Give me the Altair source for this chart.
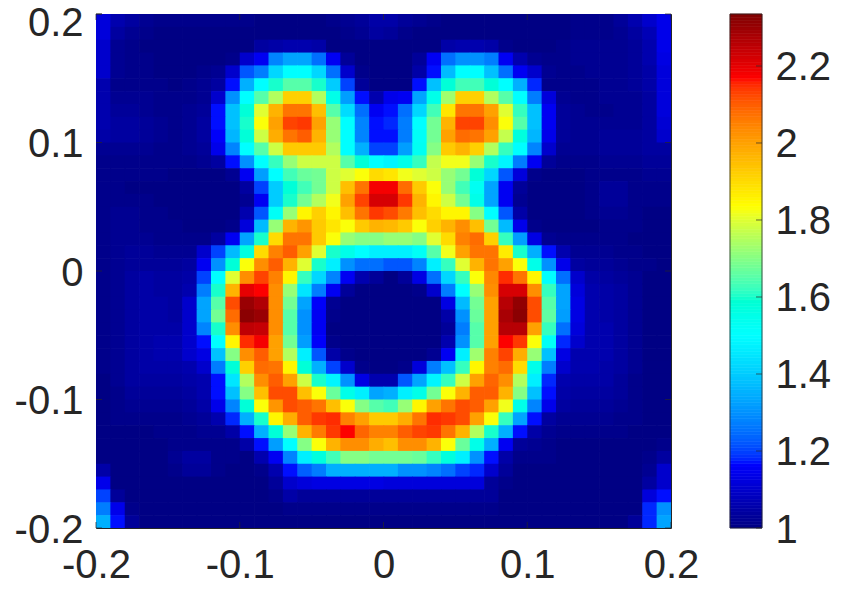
import altair as alt
import pandas as pd

# Cell values, x 100, top row first, 40 columns by 40 rows
R = [
[112,106,104,102,101,101,101,101,101,101,101,100,100,100,100,100,101,102,103,105,105,103,102,101,100,100,100,100,100,100,100,100,100,101,101,101,103,106,110,114],
[112,104,102,101,100,100,100,100,100,100,100,100,100,100,100,100,100,101,102,104,103,101,100,100,100,100,100,100,100,100,100,100,100,101,101,101,102,104,107,114],
[110,102,101,100,100,100,100,100,100,100,100,104,105,106,106,105,100,100,100,100,100,100,100,100,105,106,106,105,101,100,100,100,101,102,102,102,102,103,106,114],
[110,102,101,101,100,100,100,100,100,101,110,115,128,133,133,125,115,103,100,100,100,100,103,115,125,130,130,127,115,106,102,101,101,102,102,102,102,103,106,113],
[110,102,101,101,100,100,100,101,102,110,122,127,142,150,150,142,125,110,101,100,100,100,105,117,137,150,150,138,125,115,110,102,101,101,102,102,102,103,105,112],
[106,101,101,101,101,100,101,102,104,117,135,150,160,165,165,160,140,120,103,100,100,100,117,138,158,163,163,158,150,135,118,101,101,101,101,102,102,103,105,112],
[106,102,102,102,101,101,101,102,110,130,150,165,175,192,192,175,155,132,117,106,114,115,133,155,173,192,192,175,165,150,127,112,102,101,101,102,102,102,104,112],
[106,103,103,102,101,101,102,103,117,138,158,180,197,207,207,195,165,143,125,115,117,125,142,163,188,207,207,200,180,162,138,115,103,102,101,101,102,102,104,112],
[106,104,104,103,102,101,102,104,117,138,160,183,200,213,214,200,172,150,128,117,118,127,150,168,197,213,213,203,183,165,138,115,103,102,102,102,102,102,104,111],
[105,104,104,103,102,101,102,104,116,136,158,178,198,207,210,197,172,150,128,117,117,127,152,168,200,208,207,200,177,157,136,114,103,102,102,103,103,103,104,110],
[102,102,102,102,101,101,102,103,114,128,150,165,178,193,193,193,175,150,135,120,120,132,153,170,193,197,192,175,162,150,128,110,102,102,102,103,103,103,104,104],
[101,101,101,101,101,101,101,102,104,117,130,150,162,172,178,178,178,165,158,150,148,155,162,177,182,182,172,160,148,127,115,103,101,101,101,102,102,102,103,103],
[101,101,101,101,101,100,100,100,100,102,115,132,150,163,167,168,178,180,183,190,188,182,180,178,172,168,158,142,122,112,101,100,100,100,101,101,101,101,102,102],
[101,101,100,100,100,100,100,100,100,100,104,120,140,158,163,168,178,195,207,218,218,208,193,183,172,163,153,133,115,103,100,100,100,100,101,103,103,101,101,101],
[101,101,101,101,100,100,100,100,100,100,102,115,140,160,168,175,182,200,213,222,222,214,197,185,178,168,155,133,115,102,100,100,100,100,101,103,103,101,101,101],
[101,102,102,101,101,100,100,100,100,100,106,122,152,172,185,192,185,195,207,214,212,206,195,190,185,185,170,150,122,105,100,100,100,100,101,102,102,101,100,100],
[101,102,102,101,101,101,100,100,100,101,112,137,172,197,202,193,188,183,193,197,196,193,183,192,197,203,195,168,137,114,101,100,100,100,100,101,101,101,100,100],
[101,102,102,102,101,101,101,101,104,115,133,160,190,207,207,193,183,172,170,170,172,172,170,180,190,205,208,192,162,132,113,102,101,101,101,101,101,100,100,100],
[101,102,103,103,102,102,102,110,120,137,157,190,205,210,200,180,160,155,150,147,147,147,152,165,182,200,207,207,187,160,135,117,106,102,102,102,101,101,100,100],
[101,102,103,103,103,103,104,115,130,158,183,203,210,197,180,160,147,130,125,125,122,122,128,147,162,180,197,207,200,183,155,130,114,104,103,103,102,101,101,100],
[101,102,104,105,104,104,105,120,150,180,203,213,205,185,162,142,128,115,106,103,100,103,113,125,142,162,183,204,215,207,185,150,125,110,105,104,103,102,100,100],
[101,102,104,105,104,104,106,127,160,197,220,217,203,172,145,127,115,103,100,100,100,100,101,110,127,150,172,203,222,222,203,162,133,112,106,105,104,102,100,100],
[101,102,104,105,105,104,110,133,165,212,230,227,203,168,133,116,102,100,100,100,100,100,100,100,113,137,168,200,226,231,212,165,133,113,106,105,104,102,100,100],
[101,102,104,105,105,104,110,133,168,208,232,230,203,165,130,115,101,100,100,100,100,100,100,100,105,130,167,200,228,232,212,166,132,113,106,105,104,102,100,100],
[101,102,104,105,105,105,110,128,160,203,225,224,203,165,130,115,100,100,100,100,100,100,100,100,103,127,165,200,226,226,200,162,125,112,106,106,104,102,100,100],
[101,102,104,105,106,106,110,117,150,185,215,218,200,168,132,116,101,100,100,100,100,100,100,100,106,130,165,200,217,214,183,152,118,110,106,106,104,102,100,100],
[101,102,104,105,106,106,110,113,138,170,203,210,200,175,147,122,105,101,100,100,100,100,100,102,115,147,173,205,213,198,172,138,113,106,106,106,104,102,100,100],
[101,102,104,105,105,105,106,110,127,158,192,208,207,185,158,135,120,110,101,100,100,101,112,127,138,162,185,205,208,190,155,127,110,106,106,105,104,102,100,100],
[100,102,104,104,104,104,105,106,117,145,175,203,210,200,178,160,148,130,113,106,106,122,133,148,162,178,200,209,203,175,147,118,106,105,105,105,103,101,100,100],
[100,101,103,103,103,103,104,106,117,138,170,195,212,212,195,183,167,155,147,133,135,147,155,168,183,197,210,210,197,170,138,117,105,104,104,104,103,101,100,100],
[100,101,102,102,102,102,103,105,114,128,158,183,202,212,210,207,195,183,170,165,163,172,185,200,207,212,210,200,182,155,128,114,104,103,103,103,102,101,100,100],
[100,101,101,101,101,101,102,103,106,118,135,160,185,198,210,214,215,205,200,193,193,198,207,215,214,212,200,183,162,133,117,104,102,102,102,102,101,101,100,100],
[100,100,100,100,101,101,101,102,102,105,117,135,158,172,197,206,214,217,209,205,205,210,213,214,207,197,175,160,135,117,105,102,101,101,101,101,101,100,100,100],
[100,100,100,100,100,101,101,101,101,101,105,117,132,150,170,183,197,203,203,198,195,203,203,197,183,167,155,135,115,103,102,101,100,100,100,100,100,100,100,101],
[100,100,100,100,100,102,104,104,101,101,100,106,115,128,147,157,163,170,170,168,168,168,167,162,157,147,130,117,105,101,101,101,100,100,100,100,100,100,101,104],
[105,100,100,100,100,101,103,103,101,100,100,101,106,117,123,127,135,135,135,135,135,130,130,128,125,120,118,110,103,100,100,100,100,100,100,100,100,100,102,110],
[114,100,100,100,100,100,100,100,100,100,100,100,103,110,112,113,113,113,113,113,112,112,112,112,112,112,112,103,101,100,100,100,100,100,100,100,100,100,104,110],
[120,103,100,100,100,100,100,100,100,100,100,100,101,105,103,103,103,103,103,103,103,103,103,103,103,103,103,103,100,100,100,100,100,100,100,100,100,100,112,117],
[127,114,101,100,100,100,100,100,100,100,100,100,100,101,101,101,101,101,101,101,101,101,101,101,101,101,101,101,100,100,100,100,100,100,100,100,100,100,118,130],
[135,117,103,100,100,100,100,100,100,100,100,100,100,100,100,100,100,100,100,100,100,100,100,100,100,100,100,100,100,100,100,100,100,100,100,100,100,103,118,133],
]
axis_ticks = [-0.2, -0.1, 0, 0.1, 0.2]
y_inner_ticks = [-0.2, -0.1, 0, 0.1]
y_top_tick = [0.2]
bar_ticks = [1, 1.2, 1.4, 1.6, 1.8, 2, 2.2]
cmin, cmax = 1, 2.335
jet_stops = [1, 1.167, 1.501, 1.834, 2.168, 2.335]
jet_colors = ["#000084", "#0000ff", "#00ffff", "#ffff00", "#ff0000", "#800000"]

TXT = "#262626"
FONT = "Liberation Sans"
FS = 40

cells = pd.DataFrame([
    {"x": round(-0.2 + c * 0.01, 2), "x2": round(-0.1895 + c * 0.01, 4),
     "y": round(0.2 - r * 0.01, 2), "y2": round(0.1895 - r * 0.01, 4), "v": v / 100}
    for r, row in enumerate(R) for c, v in enumerate(row)
])
steps = 160
ramp = pd.DataFrame([
    {"a": cmin + (cmax - cmin) * i / steps, "b": cmin + (cmax - cmin) * (i + 1) / steps}
    for i in range(steps)
])
ramp["v"] = (ramp["a"] + ramp["b"]) / 2

xs = alt.Scale(domain=[-0.2, 0.2], nice=False, zero=False)
ys = alt.Scale(domain=[-0.2, 0.2], nice=False, zero=False)
bs = alt.Scale(domain=[cmin, cmax], nice=False, zero=False)
cs = alt.Scale(domain=jet_stops, range=jet_colors, clamp=True)
lab = "datum.value == 0 ? '0' : '' + datum.value"
common = dict(labelFont=FONT, labelFontSize=FS, labelColor=TXT, domain=False, ticks=False,
              grid=False, title=None, labelExpr=lab, labelOverlap=False,
              labelFlush=False, labelBound=False)

heat = alt.Chart(cells).mark_rect(clip=True).encode(
    x=alt.X("x:Q", scale=xs, axis=alt.Axis(labelPadding=17, values=axis_ticks, **common)),
    x2="x2:Q",
    y=alt.Y("y:Q", scale=ys, axis=alt.Axis(labelPadding=13, labelOffset=2, values=y_inner_ticks, **common)),
    y2="y2:Q",
    fill=alt.Fill("v:Q", scale=cs, legend=None),
)

bar = alt.Chart(ramp).mark_rect(strokeWidth=0.6).encode(
    x=alt.value(634), x2=alt.value(666),
    y=alt.Y("a:Q", scale=bs, axis=alt.Axis(
        orient="right", offset=104, labelFont=FONT, labelFontSize=FS, labelColor=TXT,
        domain=False, ticks=False, grid=False, title=None, values=bar_ticks, labelOffset=2,
        labelExpr="'' + datum.value", labelOverlap=False, labelFlush=False, labelBound=False, labelPadding=0)),
    y2="b:Q",
    fill=alt.Fill("v:Q", scale=cs, legend=None),
    stroke=alt.Stroke("v:Q", scale=cs, legend=None),
)

tdf = pd.DataFrame({"t": axis_ticks})
bdf = pd.DataFrame({"t": bar_ticks})
tick = dict(color=TXT, strokeWidth=0.7)
x_bottom = alt.Chart(tdf).mark_rule(**tick).encode(
    x=alt.X("t:Q", scale=xs, axis=None), y=alt.value(514), y2=alt.value(508))
x_top = alt.Chart(tdf).mark_rule(**tick).encode(
    x=alt.X("t:Q", scale=xs, axis=None), y=alt.value(0), y2=alt.value(6))
# The top label sits lower than its tick so that it stays inside the page's canvas
y_left = alt.Chart(tdf).mark_rule(**tick).encode(
    y=alt.Y("t:Q", scale=ys, axis=None), x=alt.value(0), x2=alt.value(6))
y_top_label = alt.Chart(pd.DataFrame({"t": y_top_tick})).mark_rule(**tick).encode(
    y=alt.Y("t:Q", scale=ys, axis=alt.Axis(labelPadding=13, labelOffset=9, values=y_top_tick, **common)),
    x=alt.value(0), x2=alt.value(6))
y_right = alt.Chart(tdf).mark_rule(**tick).encode(
    y=alt.Y("t:Q", scale=ys, axis=None), x=alt.value(575), x2=alt.value(569))
b_ticks = alt.Chart(bdf).mark_rule(**tick).encode(
    y=alt.Y("t:Q", scale=bs, axis=None), x=alt.value(660), x2=alt.value(666))
b_frame = alt.Chart(pd.DataFrame({"a": [cmin], "b": [cmax]})).mark_rect(
    fillOpacity=0, stroke=TXT, strokeWidth=0.8
).encode(
    x=alt.value(634), x2=alt.value(666),
    y=alt.Y("a:Q", scale=bs, axis=None), y2="b:Q",
)

chart = alt.layer(heat, bar, x_bottom, x_top, y_left, y_top_label, y_right, b_ticks, b_frame).resolve_scale(
    x="independent", y="independent", fill="independent", stroke="independent"
).properties(
    width=575, height=514,
    autosize=alt.AutoSizeParams(type="none"),
    padding={"left": 88, "top": 6, "right": 172, "bottom": 60},
    background="white",
).configure_view(stroke=TXT, strokeWidth=1)

assert len(R) == 40 and all(len(r) == 40 for r in R)
chart.save("out.html", embed_options={"renderer": "svg", "actions": False})
